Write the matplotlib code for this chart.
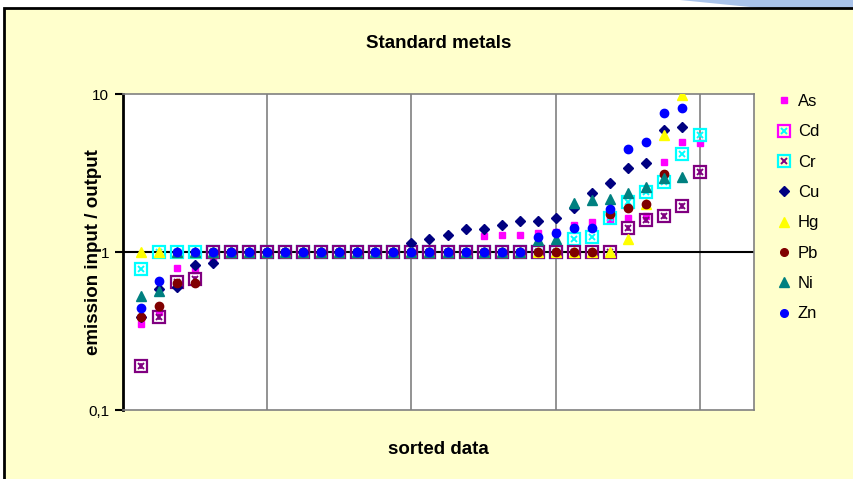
import numpy as np
from matplotlib import pyplot as plt
from matplotlib.patches import Rectangle, Polygon
from matplotlib.lines import Line2D
from matplotlib.legend_handler import HandlerTuple

plt.rcParams['font.family'] = ['Liberation Sans', 'DejaVu Sans']

# sorted ratios emission input / output, one list per metal
As = [0.35, 0.42, 0.79, 0.77, 0.88] + [1.0] * 14 + \
     [1.26, 1.28, 1.28, 1.32, 1.34, 1.48, 1.55, 1.6, 1.64, 1.69, 3.7, 4.95, 4.9]
Cd = [0.78] + [1.0] * 23 + [1.21, 1.25, 1.64, 2.07, 2.4, 2.77, 4.2, 5.5]
Cr = [0.19, 0.39, 0.65, 0.67] + [1.0] * 23 + [1.42, 1.6, 1.7, 1.95, 3.2]
Cu = [0.39, 0.58, 0.6, 0.83, 0.85] + [1.0] * 10 + \
     [1.14, 1.21, 1.28, 1.4, 1.4, 1.48, 1.57, 1.57, 1.64, 1.9, 2.36, 2.73,
      3.4, 3.66, 5.9, 6.2]
Hg = [1.0] * 27 + [1.21, 2.0, 5.5, 9.8]
Pb = [0.39, 0.455, 0.64, 0.64] + [1.0] * 22 + [1.74, 1.9, 2.02, 3.1]
Ni = [0.53, 0.57] + [1.0] * 20 + \
     [1.19, 1.21, 2.04, 2.13, 2.16, 2.36, 2.58, 2.95, 3.0]
Zn = [0.44, 0.66] + [1.0] * 20 + \
     [1.24, 1.32, 1.42, 1.42, 1.87, 4.48, 4.97, 7.57, 8.15]

names = ["As", "Cd", "Cr", "Cu", "Hg", "Pb", "Ni", "Zn"]

W, H = 854, 479
fig = plt.figure(figsize=(W / 100, H / 100), dpi=100)
fig.patch.set_facecolor('white')

# blue swoosh at the top right and the yellow chart area
fig.add_artist(Polygon([(680 / W, 1), (1, 1), (1, 1 - 14 / H), (760 / W, 1 - 8 / H)],
                       closed=True, transform=fig.transFigure,
                       facecolor='#a9c3ea', edgecolor='none', zorder=-3))
fig.add_artist(Rectangle((4 / W, -0.05), 1, 1 - 8 / H + 0.05, transform=fig.transFigure,
                         facecolor='#ffffcc', edgecolor='black', lw=2, zorder=-2))

ax = fig.add_axes([123 / W, 1 - 410 / H, (754 - 123) / W, (410 - 94) / H])
ax.set_facecolor('white')
ax.set_yscale('log')
ax.set_xlim(0, 35)
ax.set_ylim(0.1, 10)

for gx in [8, 16, 24, 32]:
    ax.axvline(gx, color='#808080', lw=1.2, zorder=1)
ax.axhline(1, color='black', lw=1.5, zorder=1)

for side in ['top', 'right', 'bottom']:
    ax.spines[side].set_color('#808080')
    ax.spines[side].set_linewidth(1.2)
ax.spines['left'].set_color('black')
ax.spines['left'].set_linewidth(2)

ax.set_xticks([])
ax.set_yticks([0.1, 1, 10])
ax.set_yticklabels(['0,1', '1', '10'])
ax.yaxis.set_minor_locator(plt.NullLocator())
ax.tick_params(axis='y', direction='out', length=6, width=1.5, labelsize=11, pad=4)

purple = '#800080'
x = lambda s: np.arange(1, len(s) + 1)

ax.plot(x(As), As, 's', ms=5, color='#ff00ff', mec='#ff00ff', zorder=3)
ax.plot(x(Cd), Cd, 's', ms=8.5, mfc='none', mec='#00ffff', mew=1.6, zorder=3)
ax.plot(x(Cd), Cd, 'x', ms=5, color='#00ffff', mew=1.4, zorder=3)
ax.plot(x(Cr), Cr, 's', ms=8.5, mfc='none', mec=purple, mew=1.6, zorder=3)
ax.plot(x(Cr), Cr, 'x', ms=5, color=purple, mew=1.4, zorder=3)
ax.plot(x(Cr), Cr, '|', ms=5, color=purple, mew=1.2, zorder=3)
ax.plot(x(Cu), Cu, 'D', ms=5.5, color='#000080', zorder=3)
ax.plot(x(Hg), Hg, '^', ms=7, color='#ffff00', zorder=3)
ax.plot(x(Pb), Pb, 'o', ms=6, color='#800000', zorder=3)
ax.plot(x(Ni), Ni, '^', ms=7, color='#008080', zorder=3)
ax.plot(x(Zn), Zn, 'o', ms=6, color='#0000ff', zorder=3)

ax.set_title('Standard metals', fontsize=13.5, fontweight='bold', pad=33)
ax.set_xlabel('sorted data', fontsize=13.5, fontweight='bold', labelpad=22)
ax.set_ylabel('emission input / output', fontsize=13.5, fontweight='bold')
ax.yaxis.set_label_coords(-0.033, 0.5)

# legend handles drawn like the chart's legend
def box(edge, inner, ms=8.5):
    return (Line2D([], [], ls='none', marker='s', ms=ms, mfc='none', mec=edge, mew=1.6),
            Line2D([], [], ls='none', marker='x', ms=5, color=inner, mew=1.4))

handles = [
    Line2D([], [], ls='none', marker='s', ms=5, color='#ff00ff'),
    box('#ff00ff', '#00ffff'),
    box('#00ffff', purple),
    Line2D([], [], ls='none', marker='D', ms=5, color='#000080'),
    Line2D([], [], ls='none', marker='^', ms=6.5, color='#ffff00'),
    Line2D([], [], ls='none', marker='o', ms=5.5, color='#800000'),
    Line2D([], [], ls='none', marker='^', ms=6.5, color='#008080'),
    Line2D([], [], ls='none', marker='o', ms=5.5, color='#0000ff'),
]
fig.legend(handles, names, loc='upper left', bbox_to_anchor=(776 / W, 1 - 94 / H),
           frameon=False, fontsize=12, labelspacing=0.92, handlelength=1.0,
           handletextpad=0.3, borderpad=0, borderaxespad=0,
           handler_map={tuple: HandlerTuple(ndivide=1)})

fig.savefig('out.png', dpi=100)
